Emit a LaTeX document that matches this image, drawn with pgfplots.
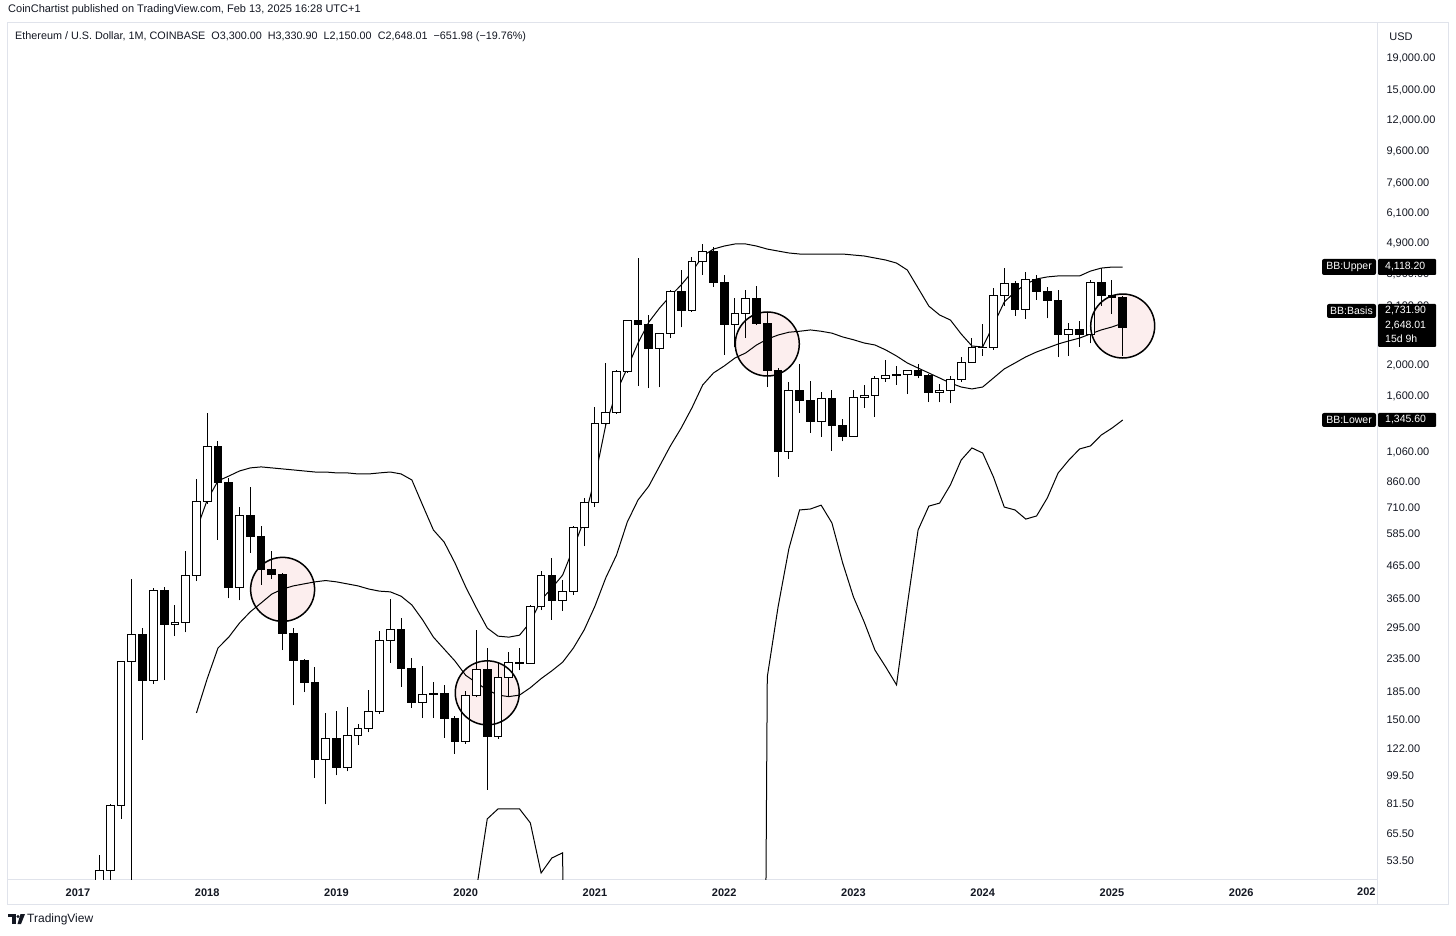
\documentclass[border=0pt]{standalone}
\usepackage{pgfplots}
\pgfplotsset{compat=1.18}
\usepackage{pgfplotstable}
\usepackage{fontspec}
\setmainfont{Liberation Sans}
\definecolor{framegray}{RGB}{224,227,235}
\definecolor{pinkfill}{RGB}{252,238,238}
\definecolor{tvtext}{RGB}{19,23,34}

% monthly candles: i = months since Jan 2017
\pgfplotstableread{
i o h l c
2 15.8 56 15.8 50
3 50 81 42 80
4 80 231 73 230
5 230 420 1 280
6 280 295 130 201
7 201 395 195 388
8 388 397 201 301
9 301 348 277 305
10 305 516 285 433
11 433 874 414 739
12 739 1417 730 1105
13 1105 1150 560 849
14 849 880 365 394
15 394 712 360 668
16 668 824 509 576
17 576 622 403 452
18 452 516 420 434
19 434 440 250 283
20 283 295 167 231
21 231 235 184 197
22 197 221 98 112
23 112 158 81 131
24 131 160 100 106
25 106 165 103 134
26 134 146 125 141
27 141 187 137 160
28 160 288 157 268
29 268 364 228 290
30 290 316 191 218
31 218 236 164 171
32 171 223 152 181
33 181 198 152 182
34 182 194 132 152
35 152 154 117 128
36 128 185 126 179
37 179 290 177 217
38 217 254 90 133
39 133 228 131 205
40 205 247 178 229
41 229 254 216 226
42 226 347 226 345
43 345 446 335 433
44 433 490 312 360
45 360 418 333 385
46 385 622 375 615
47 615 761 535 735
48 735 1480 712 1316
49 1316 2042 1290 1417
50 1417 1943 1410 1920
51 1920 2790 1900 2777
52 2777 4400 1725 2712
53 2712 2900 1700 2278
54 2278 2550 1710 2530
55 2530 3470 2450 3433
56 3433 4030 2650 3008
57 3008 4430 2970 4285
58 4285 4870 3900 4610
59 4610 4780 3560 3690
60 3690 3900 2165 2697
61 2697 3285 2300 2923
62 2923 3485 2450 3282
63 3282 3580 2700 2732
64 2732 2940 1713 1940
65 1940 1970 887 1066
66 1066 1778 1012 1676
67 1676 2026 1417 1550
68 1550 1790 1225 1328
69 1328 1652 1190 1570
70 1570 1680 1073 1290
71 1290 1353 1152 1197
72 1197 1680 1190 1584
73 1584 1740 1470 1605
74 1605 1860 1375 1825
75 1825 2090 1780 1870
76 1870 2000 1740 1874
77 1874 1928 1627 1934
78 1934 2030 1825 1857
79 1857 1880 1535 1645
80 1645 1750 1530 1671
81 1671 1855 1520 1810
82 1810 2138 1780 2053
83 2053 2450 2050 2281
84 2281 2717 2150 2283
85 2283 3530 2250 3340
86 3340 4085 3100 3650
87 3650 3730 2880 3015
88 3015 3970 2816 3760
89 3760 3888 3240 3433
90 3433 3560 2830 3232
91 3232 3470 2130 2510
92 2510 2730 2150 2600
93 2600 2770 2300 2518
94 2518 3740 2357 3690
95 3690 4085 3100 3335
96 3335 3750 2920 3300
97 3300 3330.9 2150 2648.01
}\ohlc

\pgfplotstableread{
i v
11 602
12 750
13 862
14 893
15 927
16 948
17 955
18 948
19 941
20 934
21 927
22 920
23 920
24 914
25 914
26 907
27 907
28 914
29 920
30 907
31 868
32 722
33 602
34 551
35 473
36 397
37 340
38 294
39 277
40 275
41 279
42 307
43 361
44 394
45 433
46 528
47 648
48 881
49 1296
50 1652
51 1968
52 2363
53 2753
54 3052
55 3334
56 3611
57 3970
58 4465
59 4697
60 4802
61 4875
62 4875
63 4802
64 4697
65 4630
66 4565
67 4530
68 4530
69 4530
70 4530
71 4530
72 4497
73 4465
74 4400
75 4335
76 4240
77 4030
78 3533
79 3095
80 2900
81 2796
82 2525
83 2312
84 2295
85 2697
86 3190
87 3433
88 3637
89 3775
90 3832
91 3860
92 3860
93 3860
94 3998
95 4087
96 4118
97 4118.2
}\bbupper

\pgfplotstableread{
i v
11 158
12 203
13 254
14 275
15 305
16 331
17 353
18 377
19 391
20 400
21 406
22 412
23 416
24 412
25 406
26 400
27 391
28 385
29 383
30 371
31 348
32 312
33 275
34 252
35 231
36 208
37 197
38 187
39 180
40 178
41 180
42 190
43 203
44 215
45 229
46 254
47 290
48 345
49 424
50 501
51 638
52 750
53 830
54 961
55 1113
56 1268
57 1470
58 1738
59 1898
60 1998
61 2118
62 2198
63 2329
64 2431
65 2505
66 2557
67 2575
68 2600
69 2575
70 2540
71 2470
72 2420
73 2363
74 2329
75 2246
76 2149
77 2042
78 1968
79 1898
80 1830
81 1763
82 1713
83 1689
84 1713
85 1830
86 1955
87 2042
88 2135
89 2213
90 2278
91 2346
92 2400
93 2450
94 2525
95 2600
96 2657
97 2731.9
}\bbbasis

% lower band: negative values (off a log scale) shown as 0.001
\pgfplotstableread{
i v
37 43.5
38 72.8
39 78.3
40 78.3
41 78.3
42 70.7
43 49
44 54.7
45 56.8
46 0.001
}\bblowerA

\pgfplotstableread{
i v
63 0.001
64 205.6
65 342.8
66 524
67 697
68 702
69 722
70 634
71 473
72 369
73 307
74 250
75 221
76 194
77 348
78 602
79 717
80 733
81 837
82 1004
83 1097
84 1057
85 887
86 712
87 697
88 652
89 667
90 761
91 913
92 1004
93 1089
94 1113
95 1205
96 1268
97 1345.6
}\bblowerB

\begin{document}
\begin{tikzpicture}[x=1pt,y=1pt]
\useasboundingbox (0,0) rectangle (1456,935);
\fill[white] (0,0) rectangle (1456,935);
\pgfplotstablegetrowsof{\ohlc}
\pgfmathtruncatemacro\lastrow{\pgfplotsretval-1}
\begin{axis}[
  at={(7pt,55pt)}, anchor=south west,
  scale only axis, width=1370pt, height=857pt,
  ymode=log,
  xmin=-6.59, xmax=120.61, ymin=46.56, ymax=24540,
  axis line style={draw=framegray, line width=1pt},
  xtick={0,12,...,108},
  xticklabels={2017,2018,2019,2020,2021,2022,2023,2024,2025,2026},
  xticklabel style={font=\fontsize{11}{13}\selectfont\bfseries, text=tvtext, yshift=-5pt},
  ytick={53.5,65.5,81.5,99.5,122,150,185,235,295,365,465,585,710,860,1060,1600,2000,3100,3900,4900,6100,7600,9600,12000,15000,19000},
  yticklabels={53.50,65.50,81.50,99.50,122.00,150.00,185.00,235.00,295.00,365.00,465.00,585.00,710.00,860.00,{1,060.00},{1,600.00},{2,000.00},{3,100.00},{3,900.00},{4,900.00},{6,100.00},{7,600.00},{9,600.00},{12,000.00},{15,000.00},{19,000.00}},
  yticklabel pos=right,
  yticklabel style={anchor=west, font=\fontsize{11}{13}\selectfont, text=tvtext, xshift=6pt},
  major tick length=0pt,
  tick style={draw=none},
  xminorticks=false, yminorticks=false,
  clip=true,
  clip marker paths=true,
  wick/.style={black, line width=1pt, forget plot, mark=none},
  body/.style={draw=black, line width=1pt, forget plot, mark=none},
  band/.style={black, line width=1pt, forget plot, mark=none},
]
% highlight circles (fill)
\addplot[only marks, mark=*, mark size=32pt, mark options={fill=pinkfill, draw=pinkfill}, forget plot]
  coordinates {(19,390) (38,183) (64,2346) (97,2676)};
% Bollinger bands
\addplot[band] table[x=i,y=v] {\bbupper};
\addplot[band] table[x=i,y=v] {\bbbasis};
\addplot[band] table[x=i,y=v] {\bblowerA};
\addplot[band] table[x=i,y=v] {\bblowerB};
% candles
\pgfplotsforeachungrouped \r in {0,...,\lastrow}{%
  \pgfplotstablegetelem{\r}{i}\of\ohlc \let\ci\pgfplotsretval
  \pgfplotstablegetelem{\r}{o}\of\ohlc \let\co\pgfplotsretval
  \pgfplotstablegetelem{\r}{h}\of\ohlc \let\ch\pgfplotsretval
  \pgfplotstablegetelem{\r}{l}\of\ohlc \let\cl\pgfplotsretval
  \pgfplotstablegetelem{\r}{c}\of\ohlc \let\cc\pgfplotsretval
  \pgfmathsetmacro\xa{\ci-0.36}%
  \pgfmathsetmacro\xb{\ci+0.36}%
  \pgfmathtruncatemacro\dn{\cc<\co}%
  \ifnum\dn=1 \def\fc{black}\else\def\fc{white}\fi
  \edef\next{%
    \noexpand\addplot[wick] coordinates {(\ci,\cl) (\ci,\ch)};%
    \noexpand\addplot[body, fill=\fc] coordinates {(\xa,\co) (\xb,\co) (\xb,\cc) (\xa,\cc)} -- cycle;%
  }\next
}
% highlight circles (outline)
\addplot[only marks, mark=o, mark size=32pt, mark options={draw=black, line width=1.5pt}, forget plot]
  coordinates {(19,390) (38,183) (64,2346) (97,2676)};
\end{axis}

% frame of the chart panes
\draw[framegray, line width=1pt] (7,55) -- (7,31) -- (1448,31) -- (1448,912) -- (1377,912);
\draw[framegray, line width=1pt] (1377,55) -- (1377,31);

% header texts
\node[anchor=west, inner sep=0, font=\fontsize{11}{13}\selectfont, text=tvtext] at (8,925) {CoinChartist published on TradingView.com, Feb 13, 2025 16:28 UTC+1};
\node[anchor=west, inner sep=0, font=\fontsize{10.8}{13}\selectfont, text=tvtext] at (15,898) {Ethereum / U.S. Dollar, 1M, COINBASE\hspace{6pt}O3,300.00\hspace{6pt}H3,330.90\hspace{6pt}L2,150.00\hspace{6pt}C2,648.01\hspace{6pt}−651.98 (−19.76\%)};
\node[inner sep=0, font=\fontsize{11}{13}\selectfont, text=tvtext] at (1401,898) {USD};
\node[anchor=west, inner sep=0, font=\fontsize{11}{13}\selectfont\bfseries, text=tvtext] at (1357,43) {202};

% band labels
\tikzset{lab/.style={inner sep=0, font=\fontsize{10.5}{12}\selectfont, text=white}}
\fill[black, rounded corners=2pt] (1322,676) rectangle (1376,660);
\node[lab] at (1349,668) {BB:Upper};
\fill[black, rounded corners=1pt] (1378,676) rectangle (1436,660);
\node[lab, anchor=west] at (1385,668) {4,118.20};

\fill[black, rounded corners=2pt] (1327,631) rectangle (1376,617);
\node[lab] at (1351.5,624) {BB:Basis};
\fill[black, rounded corners=1pt] (1378,631) rectangle (1436,588);
\node[lab, anchor=west] at (1385,624) {2,731.90};
\node[lab, anchor=west] at (1385,609) {2,648.01};
\node[lab, anchor=west] at (1385,596) {15d 9h};

\fill[black, rounded corners=2pt] (1322,522) rectangle (1376,508);
\node[lab] at (1349,515) {BB:Lower};
\fill[black, rounded corners=1pt] (1378,522) rectangle (1436,508);
\node[lab, anchor=west] at (1385,515) {1,345.60};

% TradingView logo
\fill[tvtext] (8,21) rectangle (15.5,18);
\fill[tvtext] (11.5,18) rectangle (15.5,11);
\fill[tvtext] (18,18.5) circle (1.7);
\fill[tvtext] (20.5,21) -- (25,21) -- (21,11) -- (17.5,11) -- cycle;
\node[anchor=west, inner sep=0, font=\fontsize{12}{14}\selectfont, text=tvtext] at (27,16) {TradingView};
\end{tikzpicture}
\end{document}
